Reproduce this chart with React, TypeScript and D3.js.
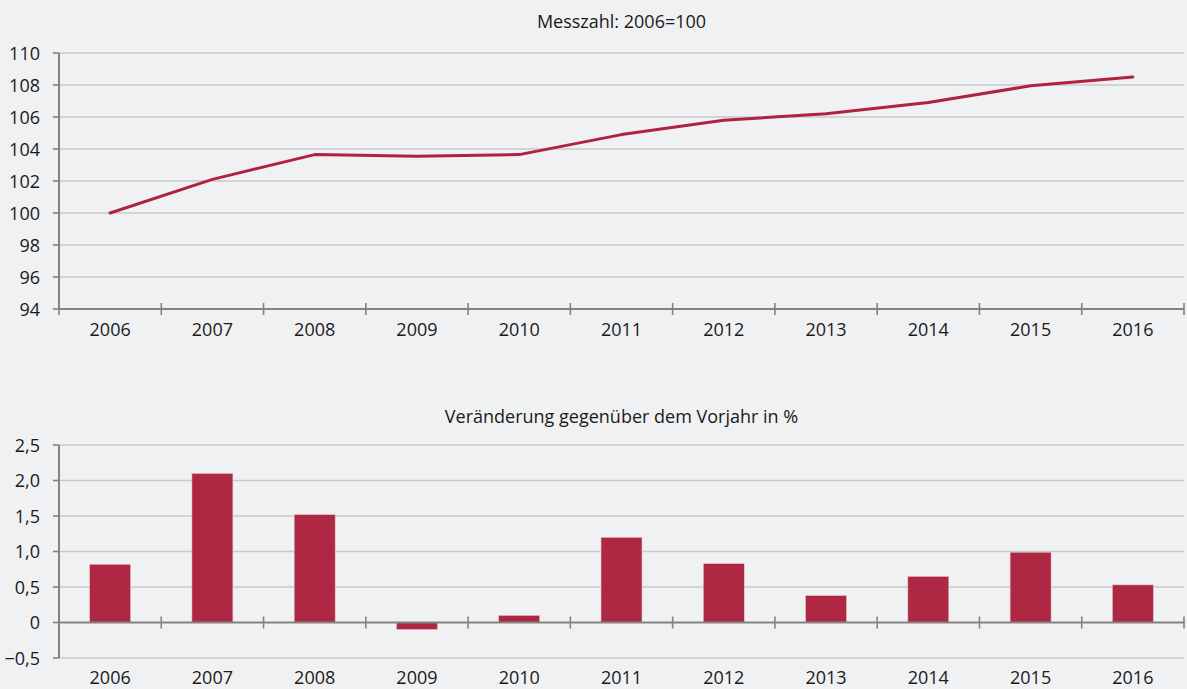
import * as d3 from "d3";
import { useEffect, useRef } from "react";

const years = ["2006", "2007", "2008", "2009", "2010", "2011", "2012", "2013", "2014", "2015", "2016"];
const indexValues = [100, 102.1, 103.65, 103.55, 103.65, 104.9, 105.8, 106.2, 106.9, 107.95, 108.5];
const changeValues = [0.82, 2.1, 1.52, -0.1, 0.1, 1.2, 0.83, 0.38, 0.65, 0.99, 0.53];
const indexTicks = [94, 96, 98, 100, 102, 104, 106, 108, 110];
const changeTicks = [-0.5, 0, 0.5, 1, 1.5, 2, 2.5];
const topTitle = "Messzahl: 2006=100";
const bottomTitle = "Veränderung gegenüber dem Vorjahr in %";

const W = 1187;
const H = 689;
const font = "'Open Sans', 'Noto Sans', sans-serif";
const gridColor = "#c9c9cb";
const axisColor = "#838385";
const red = "#ae2844";

const App = () => {
  const ref = useRef<SVGSVGElement>(null);

  useEffect(() => {
    const svg = d3.select(ref.current);
    svg.selectAll("*").remove();

    svg.append("rect").attr("width", W).attr("height", H).attr("fill", "#f0f1f3");

    const left = 59;
    const right = 1184;

    const x = d3.scaleBand().domain(years).range([left, right]);
    const fmt = (v: number) => (v === 0 ? "0" : d3.format(".1f")(v).replace(".", ","));

    // helper that draws a panel frame
    const panel = (y: d3.ScaleLinear<number, number>, ticks: number[], zero: number, labelY: number, title: string, titleY: number, tickFmt: (v: number) => string) => {
      const g = svg.append("g");
      g.append("text")
        .attr("x", (left + right) / 2)
        .attr("y", titleY)
        .attr("text-anchor", "middle")
        .attr("font-family", font)
        .attr("font-size", 18)
        .attr("fill", "#1a1a1a")
        .text(title);

      g.selectAll(".grid")
        .data(ticks.filter(t => t !== zero))
        .enter()
        .append("line")
        .attr("x1", left)
        .attr("x2", right)
        .attr("y1", d => y(d))
        .attr("y2", d => y(d))
        .attr("stroke", gridColor)
        .attr("stroke-width", 1.6);

      g.selectAll(".ytick")
        .data(ticks)
        .enter()
        .append("line")
        .attr("x1", left - 6)
        .attr("x2", left)
        .attr("y1", d => y(d))
        .attr("y2", d => y(d))
        .attr("stroke", axisColor)
        .attr("stroke-width", 1.6);

      g.selectAll(".ylab")
        .data(ticks)
        .enter()
        .append("text")
        .attr("x", 40)
        .attr("y", d => y(d) + 6.5)
        .attr("text-anchor", "end")
        .attr("font-family", font)
        .attr("font-size", 18)
        .attr("fill", "#1a1a1a")
        .text(d => tickFmt(d));

      g.selectAll(".xlab")
        .data(years)
        .enter()
        .append("text")
        .attr("x", d => (x(d) as number) + x.bandwidth() / 2)
        .attr("y", labelY)
        .attr("text-anchor", "middle")
        .attr("font-family", font)
        .attr("font-size", 18)
        .attr("fill", "#1a1a1a")
        .text(d => d);

      return g;
    };

    const axes = (g: d3.Selection<SVGGElement, unknown, null, undefined>, y: d3.ScaleLinear<number, number>, zero: number) => {
      const [d0, d1] = y.domain();
      g.append("line")
        .attr("x1", left)
        .attr("x2", left)
        .attr("y1", y(d0))
        .attr("y2", y(d1))
        .attr("stroke", axisColor)
        .attr("stroke-width", 2);
      g.append("line")
        .attr("x1", left)
        .attr("x2", right)
        .attr("y1", y(zero))
        .attr("y2", y(zero))
        .attr("stroke", axisColor)
        .attr("stroke-width", 2);
      const edges = years.map(d => x(d) as number).concat([right]);
      g.selectAll(".xtick")
        .data(edges)
        .enter()
        .append("line")
        .attr("x1", d => d)
        .attr("x2", d => d)
        .attr("y1", y(zero) - 6)
        .attr("y2", y(zero) + 6)
        .attr("stroke", axisColor)
        .attr("stroke-width", 1.6);
    };

    // top panel: index line
    const yTop = d3.scaleLinear().domain([94, 110]).range([309, 53]);
    const gTop = panel(yTop, indexTicks, 94, 336, topTitle, 28, d => String(d));
    gTop.append("path")
      .datum(indexValues)
      .attr("fill", "none")
      .attr("stroke", "#b0223f")
      .attr("stroke-width", 3)
      .attr("stroke-linecap", "round")
      .attr("stroke-linejoin", "round")
      .attr(
        "d",
        d3
          .line<number>()
          .x((_, i) => (x(years[i]) as number) + x.bandwidth() / 2)
          .y(d => yTop(d))
      );
    axes(gTop, yTop, 94);

    // bottom panel: bars
    const yBot = d3.scaleLinear().domain([-0.5, 2.5]).range([658, 445]);
    const gBot = panel(yBot, changeTicks, 0, 684, bottomTitle, 423, fmt);
    const barW = 41;
    gBot.selectAll(".bar")
      .data(changeValues)
      .enter()
      .append("rect")
      .attr("x", (_, i) => (x(years[i]) as number) + x.bandwidth() / 2 - barW / 2)
      .attr("y", d => yBot(Math.max(0, d)))
      .attr("width", barW)
      .attr("height", d => Math.abs(yBot(d) - yBot(0)))
      .attr("fill", red)
      .attr("stroke", "#e8c6ce")
      .attr("stroke-width", 0.6);
    axes(gBot, yBot, 0);
  }, []);

  return (
    <svg ref={ref} width={W} height={H} style={{ display: "block", position: "absolute", left: 0, top: 0 }}></svg>
  );
};

export default App;
